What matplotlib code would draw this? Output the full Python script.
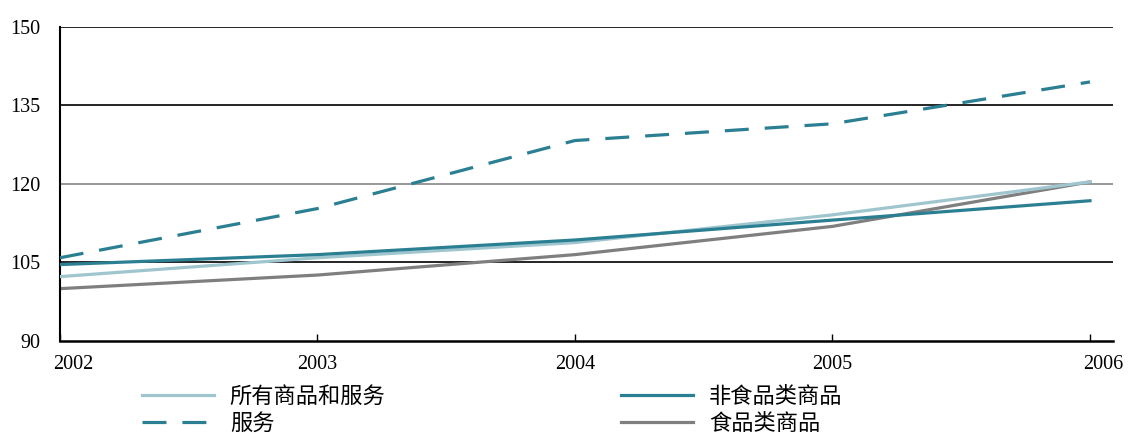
import numpy as np
import matplotlib
matplotlib.use("Agg")
import matplotlib.pyplot as plt
from matplotlib.lines import Line2D
from matplotlib.transforms import ScaledTranslation

years = [2002, 2003, 2004, 2005, 2006]
all_goods = [102.3, 105.9, 108.8, 114.1, 120.4]
services = [105.9, 115.3, 128.3, 131.5, 139.5]
non_food = [104.6, 106.5, 109.3, 113.1, 116.8]
food = [100.0, 102.6, 106.5, 111.9, 120.4]

labels = ["所有商品和服务", "服务", "非食品类商品", "食品类商品"]
yticks = [90, 105, 120, 135, 150]

c_light = "#9fc6ce"
c_teal = "#2b7f92"
c_gray = "#7f7f7f"
dash = (7.5, 5)

fig = plt.figure(figsize=(11.29, 4.42), dpi=100)
ax = fig.add_axes([0.053, 0.2285, 0.933, 0.7105])

for y in yticks[1:]:
    col = "#888888" if y == 120 else "black"
    ax.axhline(y, color=col, lw=1.2, zorder=1)

ax.plot(years, all_goods, color=c_light, lw=2.3, zorder=3)
ax.plot(years, non_food, color=c_teal, lw=2.3, zorder=4)
ax.plot(years, food, color=c_gray, lw=2.3, zorder=2)
ax.plot(years, services, color=c_teal, lw=2.3, dashes=dash, zorder=5)

ax.set_xlim(2002, 2006.09)
ax.set_ylim(90, 150)
ax.set_xticks(years)
ax.set_yticks(yticks)
ax.set_xticklabels([str(y) for y in years], family="Liberation Serif", fontsize=14.5)
ax.set_yticklabels([str(y) for y in yticks], family="Liberation Serif", fontsize=14.5)
ax.tick_params(axis="x", direction="in", length=5, width=1, pad=10)
ax.tick_params(axis="y", length=0, pad=14)
# first and last year labels sit to the right of their ticks
shift = ScaledTranslation(-7 / 100, 0, fig.dpi_scale_trans)
xl = ax.get_xticklabels()
for lab in (xl[0], xl[-1]):
    lab.set_horizontalalignment("left")
    lab.set_transform(lab.get_transform() + shift)
ax.spines["top"].set_visible(False)
ax.spines["right"].set_visible(False)
ax.spines["left"].set_linewidth(1.5)
ax.spines["bottom"].set_linewidth(1.8)

handles = [
    Line2D([], [], color=c_light, lw=2.3),
    Line2D([], [], color=c_teal, lw=2.3, dashes=dash),
    Line2D([], [], color=c_teal, lw=2.3),
    Line2D([], [], color=c_gray, lw=2.3),
]
fig.legend(handles, labels, loc="upper left", bbox_to_anchor=(0.1258, 0.13),
           ncol=2, frameon=False, prop={"family": ["Noto Sans CJK SC", "DejaVu Sans"], "size": 16},
           handlelength=3.25, handletextpad=0.7, columnspacing=10.6, labelspacing=0.2,
           borderpad=0, borderaxespad=0)

fig.savefig("out.png", dpi=100)
